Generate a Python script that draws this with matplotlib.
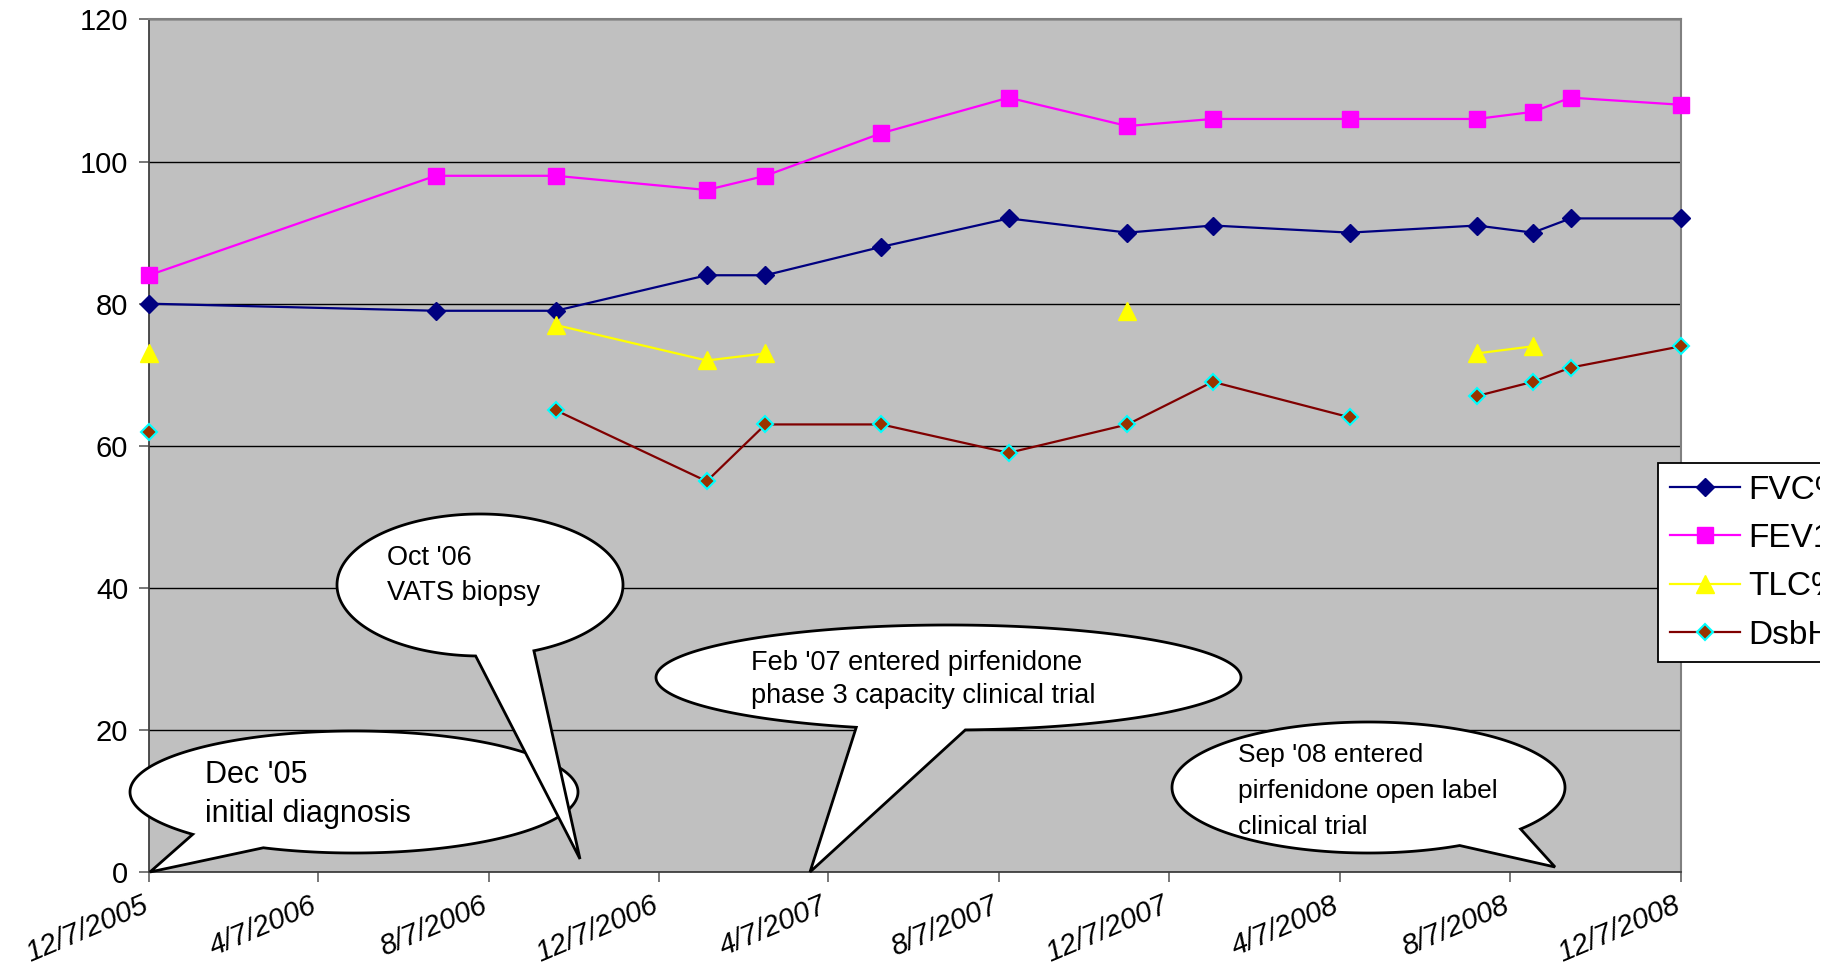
import numpy as np
import pandas as pd
import matplotlib
matplotlib.use("Agg")
import matplotlib.pyplot as plt
import matplotlib.dates as mdates
import matplotlib.transforms as mtransforms
from matplotlib.patches import Polygon, Rectangle
from matplotlib.ticker import FuncFormatter

plt.rcParams['font.family'] = ['Liberation Sans', 'DejaVu Sans']

# test dates (one blank row in June 2008 breaks the DsbH line)
dates = pd.to_datetime([
    '2005-12-07', '2006-06-30', '2006-09-24', '2007-01-10', '2007-02-21',
    '2007-05-15', '2007-08-14', '2007-11-07', '2008-01-07', '2008-04-14',
    '2008-06-01', '2008-07-14', '2008-08-23', '2008-09-19', '2008-12-07'])
nan = np.nan
fvc = [80, 79, 79, 84, 84, 88, 92, 90, 91, 90, nan, 91, 90, 92, 92]
fev1 = [84, 98, 98, 96, 98, 104, 109, 105, 106, 106, nan, 106, 107, 109, 108]
tlc = [73, nan, 77, 72, 73, nan, nan, 79, nan, nan, nan, 73, 74, nan, nan]
dsbh = [62, nan, 65, 55, 63, 63, 59, 63, 69, 64, nan, 67, 69, 71, 74]
labels = ['FVC%', 'FEV1%', 'TLC%', 'DsbH%']

W, H = 1846, 971
fig = plt.figure(figsize=(W / 100, H / 100), dpi=100)
ax = fig.add_axes([149 / W, 1 - 872 / H, 1532 / W, 852.5 / H])
ax.set_facecolor('#c0c0c0')
ax.set_axisbelow(True)

fvc = np.array(fvc, float)
fev1 = np.array(fev1, float)
ok = np.isfinite(fvc)
ax.plot(dates[ok], fvc[ok], color='#000080', lw=1.6, marker='D', ms=9.5,
        mfc='#000080', mec='#000080', clip_on=False, label=labels[0], zorder=4)
ok = np.isfinite(fev1)
ax.plot(dates[ok], fev1[ok], color='#ff00ff', lw=1.6, marker='s', ms=11,
        mfc='#ff00ff', mec='#ff00ff', clip_on=False, label=labels[1], zorder=4)
ax.plot(dates, tlc, color='#ffff00', lw=1.6, marker='^', ms=12.5,
        mfc='#ffff00', mec='#ffff00', clip_on=False, label=labels[2], zorder=4)
ax.plot(dates, dsbh, color='#800000', lw=1.6, marker='D', ms=8,
        mfc='#993300', mec='#00ffff', mew=1.5, clip_on=False, label=labels[3], zorder=4)

ax.set_xlim(pd.Timestamp('2005-12-07'), pd.Timestamp('2008-12-07'))
ax.set_ylim(0, 120)
ax.set_yticks(range(0, 121, 20))
ax.xaxis.set_major_locator(mdates.MonthLocator(bymonth=(4, 8, 12), bymonthday=7))
ax.xaxis.set_major_formatter(FuncFormatter(
    lambda v, p: '{0.month}/{0.day}/{0.year}'.format(mdates.num2date(v))))
ax.grid(axis='y', color='black', lw=1.0)
for s in ['top', 'right']:
    ax.spines[s].set_color('#808080')
    ax.spines[s].set_linewidth(1.5)
for s in ['left', 'bottom']:
    ax.spines[s].set_color('#404040')
    ax.spines[s].set_linewidth(1.3)
ax.tick_params(axis='both', direction='out', length=7, width=1.2, color='#606060',
               labelsize=21)
ax.tick_params(axis='y', pad=8)
ax.tick_params(axis='x', pad=7, labelsize=21)
shift = mtransforms.ScaledTranslation(-0.08, 0, fig.dpi_scale_trans)
for t in ax.get_xticklabels():
    t.set_rotation(23)
    t.set_ha('right')
    t.set_va('top')
    t.set_rotation_mode('anchor')
    t.set_fontstyle('italic')
    t.set_transform(t.get_transform() + shift)

leg = ax.legend(loc='upper left', bbox_to_anchor=(1658 / W, 1 - 463 / H),
                bbox_transform=fig.transFigure, fontsize=24, frameon=True,
                fancybox=False, framealpha=1, edgecolor='black',
                borderpad=0.35, handlelength=2.1, handletextpad=0.27,
                labelspacing=0.52, borderaxespad=0)
leg.get_frame().set_linewidth(1.3)

# the original chart is cropped a little short of the right edge
fig.add_artist(Rectangle((1820 / W, 0), 26 / W, 1, transform=fig.transFigure,
                         fc='white', ec='none', zorder=10))


def px(x, y):
    return x / W, 1 - y / H


def bubble(cx, cy, a, b, root1, root2, tip, lines, tx, baselines, size, z):
    # speech bubble: ellipse with a wedge tail, coordinates in figure pixels
    t = [np.arctan2((cy - p[1]) / b, (p[0] - cx) / a) for p in (root1, root2)]
    lo, hi = min(t), max(t)
    th = np.linspace(hi, lo + 2 * np.pi, 300)
    verts = [px(cx + a * np.cos(q), cy - b * np.sin(q)) for q in th]
    verts.append(px(*tip))
    fig.add_artist(Polygon(verts, closed=True, transform=fig.transFigure,
                           fc='white', ec='black', lw=2, zorder=z,
                           joinstyle='miter'))
    for line, by in zip(lines, baselines):
        fig.text(*px(tx, by), line, fontsize=size, ha='left', va='baseline',
                 zorder=z + 0.5)


bubble(354, 792, 224, 61, (194, 834), (263, 848), (150, 872),
       ["Dec '05", 'initial diagnosis'], 205, [783, 822], 22, 5)
bubble(480, 585, 143, 71, (476, 650), (530, 646), (580, 859),
       ["Oct '06", 'VATS biopsy'], 387, [565, 600], 19.5, 6)
bubble(948.5, 677.5, 292.5, 52.5, (855, 728), (966, 732), (810, 872),
       ["Feb '07 entered pirfenidone", 'phase 3 capacity clinical trial'],
       751, [670, 703], 19.5, 5)
bubble(1368.5, 787.5, 196.5, 65.5, (1462, 847), (1517, 828), (1555, 867),
       ["Sep '08 entered", 'pirfenidone open label', 'clinical trial'],
       1238, [762, 798, 834], 19, 5)

fig.savefig('out.png', dpi=100)
